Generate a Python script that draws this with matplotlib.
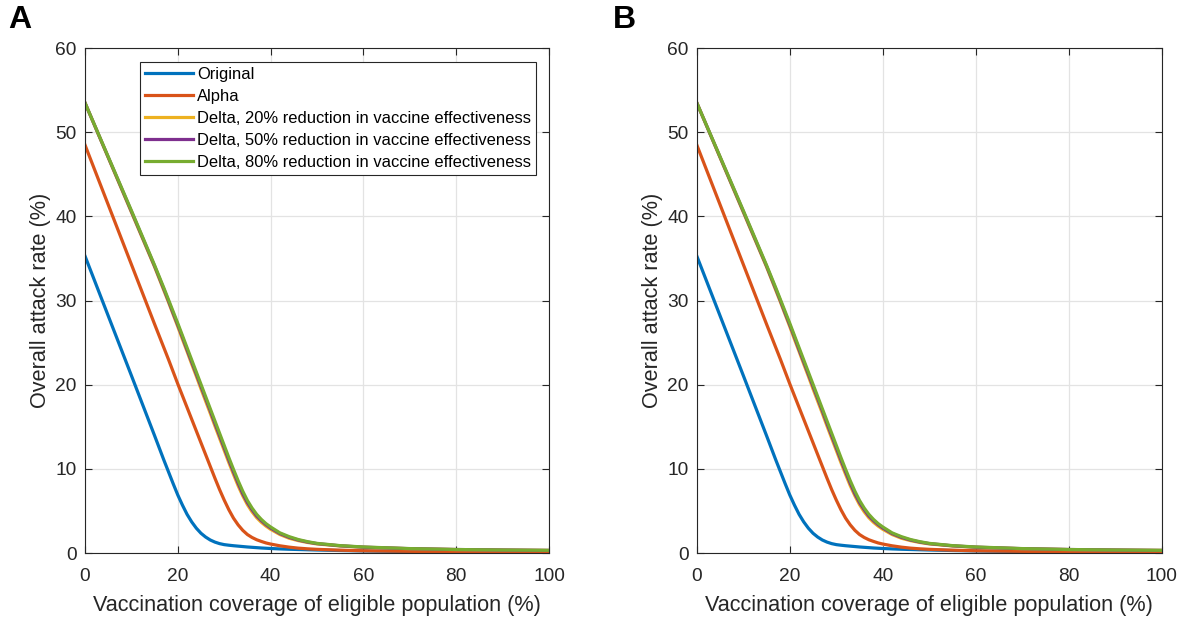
import numpy as np
import matplotlib
matplotlib.use('Agg')
import matplotlib.pyplot as plt

plt.rcParams['font.family'] = ['Liberation Sans', 'DejaVu Sans']

# vaccination coverage (%)
cov = [0, 5, 10, 15, 17, 18, 19, 20, 21, 22, 23, 24, 25, 26, 27, 28, 29, 30,
       31, 32, 33, 34, 35, 36, 37, 38, 39, 40, 42, 44, 46, 48, 50, 55, 60,
       70, 80, 90, 100]

# overall attack rate (%)
original = [35.3, 28.2, 21.1, 13.95, 11.05, 9.65, 8.25, 6.9, 5.7, 4.6, 3.7,
            2.95, 2.35, 1.9, 1.55, 1.3, 1.12, 1.0, 0.93, 0.87, 0.82, 0.77,
            0.72, 0.68, 0.64, 0.6, 0.57, 0.54, 0.49, 0.45, 0.42, 0.39, 0.36,
            0.3, 0.25, 0.18, 0.13, 0.1, 0.08]
alpha = [48.5, 41.4, 34.3, 27.2, 24.4, 23.0, 21.55, 20.1, 18.7, 17.3, 15.9,
         14.5, 13.1, 11.7, 10.3, 8.9, 7.55, 6.3, 5.15, 4.15, 3.35, 2.7, 2.2,
         1.85, 1.58, 1.38, 1.2, 1.07, 0.86, 0.7, 0.58, 0.5, 0.44, 0.34, 0.27,
         0.2, 0.15, 0.12, 0.1]
delta20 = [53.5, 47.0, 40.5, 34.0, 31.2, 29.8, 28.35, 26.9, 25.4, 23.95,
           22.45, 21.0, 19.5, 18.05, 16.6, 15.1, 13.65, 12.2, 10.75, 9.35,
           8.0, 6.8, 5.75, 4.9, 4.2, 3.65, 3.2, 2.82, 2.2, 1.76, 1.47, 1.25,
           1.08, 0.84, 0.68, 0.51, 0.41, 0.35, 0.31]
delta50 = [53.5, 47.05, 40.6, 34.1, 31.35, 29.95, 28.5, 27.1, 25.65, 24.15,
           22.7, 21.25, 19.8, 18.35, 16.9, 15.4, 13.95, 12.5, 11.05, 9.65,
           8.3, 7.05, 6.0, 5.15, 4.4, 3.85, 3.37, 2.97, 2.31, 1.86, 1.54, 1.3,
           1.12, 0.86, 0.7, 0.52, 0.42, 0.36, 0.31]
delta80 = [53.5, 47.1, 40.7, 34.2, 31.5, 30.1, 28.7, 27.3, 25.85, 24.4,
           22.95, 21.5, 20.05, 18.6, 17.15, 15.7, 14.25, 12.8, 11.35, 9.95,
           8.6, 7.35, 6.25, 5.35, 4.6, 4.0, 3.5, 3.1, 2.4, 1.95, 1.6, 1.35,
           1.15, 0.88, 0.72, 0.53, 0.42, 0.36, 0.32]

labels = ['Original', 'Alpha',
          'Delta, 20% reduction in vaccine effectiveness',
          'Delta, 50% reduction in vaccine effectiveness',
          'Delta, 80% reduction in vaccine effectiveness']
colors = ['#0072BD', '#D95319', '#EDB120', '#7E2F8E', '#77AC30']
series = [original, alpha, delta20, delta50, delta80]

fig = plt.figure(figsize=(11.85, 6.2), dpi=100)
axA = fig.add_axes([0.0717, 0.108, 0.3916, 0.8145])
axB = fig.add_axes([0.588, 0.108, 0.3924, 0.8145])

for ax, letter, lx in [(axA, 'A', -0.165), (axB, 'B', -0.181)]:
    for y, c, lab in zip(series, colors, labels):
        ax.plot(cov, y, color=c, lw=2.3, label=lab)
    ax.set_xlim(0, 100)
    ax.set_ylim(0, 60)
    ax.set_xticks(np.arange(0, 101, 20))
    ax.set_yticks(np.arange(0, 61, 10))
    ax.grid(True, color='#e3e3e3', lw=0.9)
    ax.set_axisbelow(True)
    ax.tick_params(direction='in', top=True, right=True, labelsize=13.8,
                   color='#262626', length=5, width=0.8)
    ax.tick_params(axis='x', pad=11)
    ax.tick_params(axis='y', pad=6)
    for s in ax.spines.values():
        s.set_color('#262626')
        s.set_linewidth(0.8)
    ax.set_xlabel('Vaccination coverage of eligible population (%)',
                  fontsize=15.6, color='#262626', labelpad=7)
    ax.set_ylabel('Overall attack rate (%)', fontsize=15.6,
                  color='#262626', labelpad=3)
    for t in ax.get_xticklabels() + ax.get_yticklabels():
        t.set_color('#262626')
    ax.text(lx, 1.025, letter, transform=ax.transAxes, fontsize=23,
            fontweight='bold', ha='left', va='bottom')

leg = axA.legend(loc='upper right', bbox_to_anchor=(0.972, 0.973),
                 fontsize=11.9, frameon=True, fancybox=False, framealpha=1,
                 edgecolor='#262626', handlelength=2.9, handletextpad=0.25,
                 labelspacing=0.43, borderpad=0.3, borderaxespad=0.0)
leg.get_frame().set_linewidth(0.8)

fig.savefig('out.png', dpi=100)
